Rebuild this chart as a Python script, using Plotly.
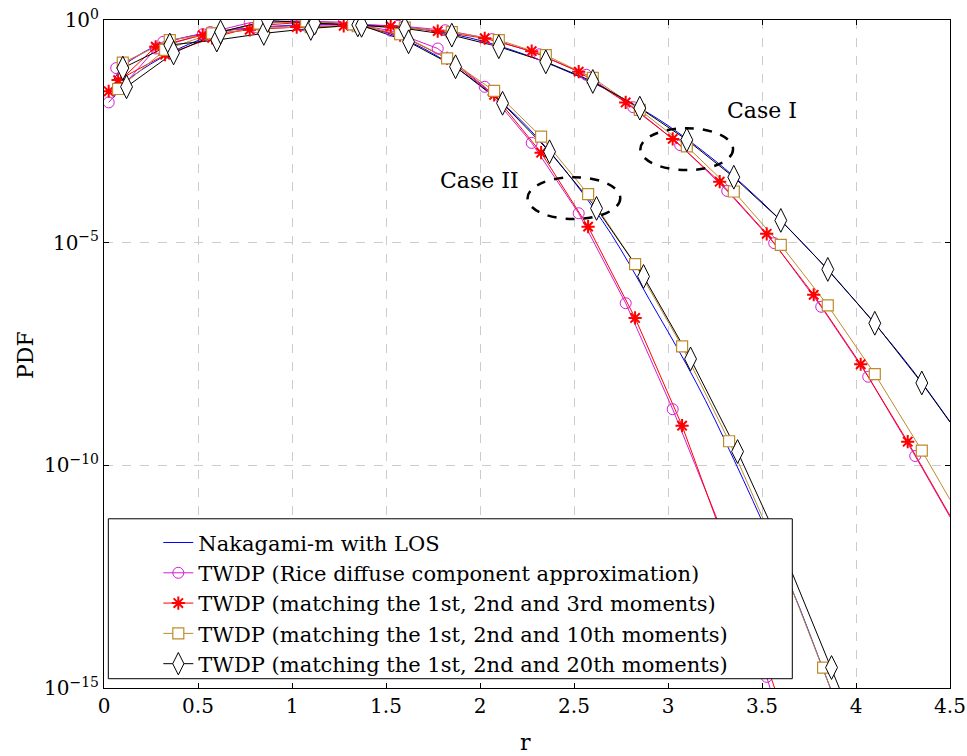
import plotly.graph_objects as go

# ---------------- Case I (slower tail) ----------------
r_naka_I = [0.05, 0.1, 0.2, 0.3, 0.4, 0.5, 0.6, 0.7, 0.8, 0.9, 1.0, 1.1, 1.2, 1.3, 1.4,
            1.5, 1.6, 1.7, 1.8, 1.9, 2.0, 2.1, 2.2, 2.3, 2.4, 2.5, 2.6, 2.7, 2.8, 2.9,
            3.0, 3.1, 3.2, 3.3, 3.4, 3.5, 3.6, 3.7, 3.8, 3.9, 4.0, 4.1, 4.2, 4.3, 4.4, 4.5]
pdf_naka_I = [0.0447, 0.0891, 0.178, 0.282, 0.380, 0.468, 0.550, 0.617, 0.676, 0.724,
              0.759, 0.776, 0.794, 0.794, 0.776, 0.741, 0.692, 0.617, 0.525, 0.437,
              0.347, 0.263, 0.191, 0.135, 0.0912, 0.0603, 0.0389, 0.0240, 0.0141, 7.94e-3,
              4.27e-3, 2.14e-3, 1.02e-3, 4.68e-4, 2.00e-4, 8.13e-5, 3.16e-5, 1.17e-5, 4.17e-6, 1.41e-6,
              4.68e-7, 1.51e-7, 4.68e-8, 1.38e-8, 3.72e-9, 9.55e-10]

r_rice_I = [0.065, 0.315, 0.565, 0.815, 1.065, 1.315, 1.565, 1.815, 2.065, 2.315,
            2.565, 2.815, 3.065, 3.315, 3.565, 3.815, 4.065, 4.315, 4.5]
pdf_rice_I = [0.0832, 0.324, 0.537, 0.676, 0.759, 0.794, 0.741, 0.589, 0.372, 0.170,
              0.0589, 0.0110, 1.55e-3, 1.45e-4, 9.77e-6, 3.63e-7, 9.77e-9, 1.62e-10, 6.92e-12]

r_m3_I = [0.025, 0.275, 0.525, 0.775, 1.025, 1.275, 1.525, 1.775, 2.025, 2.275,
          2.525, 2.775, 3.025, 3.275, 3.525, 3.775, 4.025, 4.275, 4.5]
pdf_m3_I = [0.0251, 0.251, 0.457, 0.603, 0.692, 0.741, 0.724, 0.562, 0.389, 0.200,
            0.0692, 0.0141, 2.14e-3, 2.34e-4, 1.58e-5, 6.76e-7, 1.86e-8, 3.39e-10, 7.41e-12]

r_m10_I = [0.1, 0.35, 0.6, 0.85, 1.1, 1.35, 1.6, 1.85, 2.1, 2.35,
           2.6, 2.85, 3.1, 3.35, 3.6, 3.85, 4.1, 4.35, 4.5]
pdf_m10_I = [0.110, 0.355, 0.501, 0.661, 0.692, 0.724, 0.676, 0.537, 0.355, 0.162,
             0.0501, 9.55e-3, 1.45e-3, 1.41e-4, 8.91e-6, 3.89e-7, 1.12e-8, 2.14e-10, 1.70e-11]

r_m20_I = [0.1, 0.35, 0.6, 0.85, 1.1, 1.35, 1.6, 1.85, 2.1, 2.35,
           2.6, 2.85, 3.1, 3.35, 3.6, 3.85, 4.1, 4.35, 4.5]
pdf_m20_I = [0.0832, 0.275, 0.355, 0.501, 0.646, 0.776, 0.646, 0.457, 0.251, 0.115,
             0.0417, 0.0105, 2.04e-3, 2.95e-4, 3.16e-5, 2.51e-6, 1.55e-7, 7.08e-9, 9.33e-10]

# ---------------- Case II (faster tail) ----------------
r_naka_II = [0.05, 0.1, 0.2, 0.3, 0.4, 0.5, 0.6, 0.7, 0.8, 0.9, 1.0, 1.1, 1.2, 1.3, 1.4,
             1.5, 1.6, 1.7, 1.8, 1.9, 2.0, 2.1, 2.2, 2.3, 2.4, 2.5, 2.6, 2.7, 2.8, 2.9,
             3.0, 3.1, 3.2, 3.3, 3.4, 3.5, 3.6, 3.7, 3.8, 3.9]
pdf_naka_II = [0.0178, 0.0355, 0.0759, 0.138, 0.229, 0.347, 0.490, 0.646, 0.776, 0.871,
               0.912, 0.912, 0.871, 0.794, 0.692, 0.525, 0.363, 0.229, 0.132, 0.0708,
               0.0347, 0.0158, 6.61e-3, 2.40e-3, 7.94e-4, 2.34e-4, 6.31e-5, 1.51e-5, 3.02e-6, 5.37e-7,
               1.00e-7, 1.78e-8, 2.82e-9, 3.80e-10, 4.79e-11, 5.62e-12, 6.31e-13, 6.31e-14, 5.01e-15, 3.98e-16]

r_rice_II = [0.025, 0.275, 0.525, 0.775, 1.025, 1.275, 1.525, 1.775, 2.025, 2.275,
             2.525, 2.775, 3.025, 3.275, 3.525, 3.6]
pdf_rice_II = [0.0141, 0.229, 0.479, 0.871, 0.955, 0.891, 0.575, 0.229, 0.0316, 1.74e-3,
               4.57e-5, 4.37e-7, 1.82e-9, 4.47e-12, 1.78e-15, 1.58e-16]

r_m3_II = [0.075, 0.325, 0.575, 0.825, 1.075, 1.325, 1.575, 1.825, 2.075, 2.325,
           2.575, 2.825, 3.075, 3.325, 3.575]
pdf_m3_II = [0.0447, 0.166, 0.398, 0.759, 0.891, 0.794, 0.457, 0.138, 0.0209, 1.05e-3,
             2.29e-5, 2.04e-7, 7.76e-10, 1.00e-12, 7.94e-16]

r_m10_II = [0.075, 0.325, 0.575, 0.825, 1.075, 1.325, 1.575, 1.825, 2.075, 2.325,
            2.575, 2.825, 3.075, 3.325, 3.575, 3.825, 3.9]
pdf_m10_II = [0.0282, 0.214, 0.501, 0.832, 0.933, 0.794, 0.479, 0.138, 0.0257, 2.40e-3,
              1.23e-4, 3.31e-6, 4.68e-8, 3.47e-10, 1.38e-12, 2.88e-15, 3.98e-16]

r_m20_II = [0.12, 0.37, 0.62, 0.87, 1.12, 1.37, 1.62, 1.87, 2.12, 2.37,
            2.62, 2.87, 3.12, 3.37, 3.62, 3.87, 3.95]
pdf_m20_II = [0.0316, 0.182, 0.537, 0.977, 0.851, 0.759, 0.324, 0.0891, 0.0135, 1.10e-3,
              5.89e-5, 1.74e-6, 2.45e-8, 2.04e-10, 1.00e-12, 2.88e-15, 3.98e-16]

legend_names = [
    "Nakagami-m with LOS",
    "TWDP (Rice diffuse component approximation)",
    "TWDP (matching the 1st, 2nd and 3rd moments)",
    "TWDP (matching the 1st, 2nd and 10th moments)",
    "TWDP (matching the 1st, 2nd and 20th moments)",
]
x_ticks = [0, 0.5, 1, 1.5, 2, 2.5, 3, 3.5, 4, 4.5]
x_tick_text = ["0", "0.5", "1", "1.5", "2", "2.5", "3", "3.5", "4", "4.5"]
y_ticks = [1e-15, 1e-10, 1e-5, 1e0]
y_tick_text = ["10<sup>−15</sup>", "10<sup>−10</sup>", "10<sup>−5</sup>", "10<sup>0</sup>"]

BLUE = "#0000ff"
MAGENTA = "#d41cd4"
RED = "#ff0000"
GOLD = "#bf8a2c"
BLACK = "#000000"
FONT = "DejaVu Serif"

styles = [
    dict(color=BLUE, marker=None),
    dict(color=MAGENTA, marker=dict(symbol="circle-open", size=11, color=MAGENTA,
                                    line=dict(color=MAGENTA, width=1))),
    dict(color=RED, marker=dict(symbol="asterisk-open", size=11, color=RED,
                                line=dict(color=RED, width=2))),
    dict(color=GOLD, marker=dict(symbol="square", size=11, color="white",
                                 line=dict(color=GOLD, width=1.2))),
    dict(color=BLACK, marker=dict(symbol="diamond-tall", size=17, color="white",
                                  line=dict(color=BLACK, width=1))),
]

curves = [
    [(r_naka_I, pdf_naka_I), (r_naka_II, pdf_naka_II)],
    [(r_rice_I, pdf_rice_I), (r_rice_II, pdf_rice_II)],
    [(r_m3_I, pdf_m3_I), (r_m3_II, pdf_m3_II)],
    [(r_m10_I, pdf_m10_I), (r_m10_II, pdf_m10_II)],
    [(r_m20_I, pdf_m20_I), (r_m20_II, pdf_m20_II)],
]

fig = go.Figure()

# legend entries
for name, st in zip(legend_names, styles):
    if st["marker"] is None:
        fig.add_trace(go.Scatter(x=[None], y=[None], mode="lines", name=name,
                                 line=dict(color=st["color"], width=1)))
    else:
        fig.add_trace(go.Scatter(x=[None], y=[None], mode="lines+markers", name=name,
                                 line=dict(color=st["color"], width=1), marker=st["marker"]))

# curves: lines first, then the marks on top
for (name, st, pair) in zip(legend_names, styles, curves):
    for r, p in pair:
        is_naka = st["marker"] is None
        fig.add_trace(go.Scatter(
            x=r, y=p, mode="lines", showlegend=False, hoverinfo="skip",
            line=dict(color=st["color"], width=1, shape="spline" if is_naka else "linear"),
        ))
for (name, st, pair) in zip(legend_names, styles, curves):
    if st["marker"] is None:
        continue
    for r, p in pair:
        # the final sample of a marked curve only extends the line
        fig.add_trace(go.Scatter(
            x=r[:-1], y=p[:-1], mode="markers", showlegend=False, marker=st["marker"],
        ))

axis_common = dict(
    showline=True, linecolor="black", linewidth=1, mirror="ticks",
    ticks="inside", ticklen=5, tickcolor="black", tickwidth=1,
    showgrid=True, gridcolor="#cccccc", gridwidth=1, griddash="dash",
    zeroline=False, tickfont=dict(size=20, family=FONT), automargin=False,
)

fig.update_xaxes(range=[0, 4.5], tickvals=x_ticks, ticktext=x_tick_text, **axis_common)
fig.update_yaxes(type="log", range=[-15, 0], tickvals=y_ticks, ticktext=y_tick_text, **axis_common)

# axis titles
fig.add_annotation(x=0.498, y=-0.082, xref="paper", yref="paper", text="r", showarrow=False,
                   font=dict(size=22), xanchor="center", yanchor="middle")
fig.add_annotation(x=-0.093, y=0.499, xref="paper", yref="paper", text="PDF", showarrow=False,
                   font=dict(size=22), textangle=-90, xanchor="center", yanchor="middle")

# dashed ellipses marking the two groups of curves
fig.add_shape(type="circle", xref="x", yref="y", x0=2.853, x1=3.346,
              y0=10 ** -3.37, y1=10 ** -2.43, line=dict(color="black", width=2.5, dash="dash"))
fig.add_shape(type="circle", xref="x", yref="y", x0=2.253, x1=2.746,
              y0=10 ** -4.47, y1=10 ** -3.53, line=dict(color="black", width=2.5, dash="dash"))
fig.add_annotation(x=3.50, y=-2.04, xref="x", yref="y", text="Case I", showarrow=False,
                   font=dict(size=22))
fig.add_annotation(x=1.996, y=-3.61, xref="x", yref="y", text="Case II", showarrow=False,
                   font=dict(size=22))

# legend frame
fig.add_shape(type="rect", xref="paper", yref="paper", x0=0.0051, x1=0.8136, y0=0.0139, y1=0.2533,
              fillcolor="white", line=dict(color="black", width=1), layer="above")

fig.update_layout(
    width=967, height=756,
    margin=dict(l=104, r=17, t=20, b=68),
    paper_bgcolor="white", plot_bgcolor="white",
    font=dict(family=FONT, size=21, color="black"),
    legend=dict(x=0.0642, y=0.248, xanchor="left", yanchor="top",
                bgcolor="rgba(0,0,0,0)", borderwidth=0, font=dict(size=21, family=FONT),
                tracegroupgap=0),
)

fig.write_html("out.html")
